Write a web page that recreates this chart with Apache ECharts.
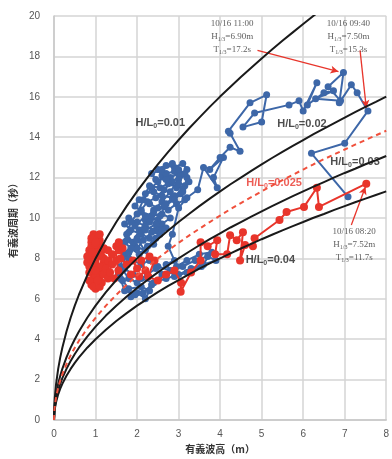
<!DOCTYPE html>
<html>
<head>
<meta charset="utf-8">
<script src="https://cdn.jsdelivr.net/npm/echarts@6/dist/echarts.min.js"></script>
<style>
html,body{margin:0;padding:0;background:#fff;}
#c{width:392px;height:459px;}
</style>
</head>
<body>
<div id="c"></div>
<script>
// ---- data ----
var xTicks = [0,1,2,3,4,5,6,7,8];
var yTicks = [0,2,4,6,8,10,12,14,16,18,20];

// steepness curves H/L0 (H, T)
var curveH = [0,0.01,0.02,0.05,0.1,0.15,0.2,0.3,0.4,0.5,0.6,0.8,1,1.25,1.5,1.75,2,2.25,2.5,2.75,3,3.25,3.5,3.75,4,4.25,4.5,4.75,5,5.25,5.5,5.75,6,6.25,6.5,6.75,7,7.25,7.5,7.75,8];
var curve001 = [0,0.80,1.13,1.79,2.53,3.10,3.58,4.38,5.06,5.66,6.20,7.16,8.00,8.95,9.80,10.59,11.32,12.00,12.65,13.27,13.86,14.43,14.97,15.50,16.01,16.50,16.98,17.44,17.90,18.34,18.77,19.19,19.60,20.01,20.40,20.79,21.17,21.55,21.92,22.28,22.64];
var curve002 = [0,0.57,0.80,1.27,1.79,2.19,2.53,3.10,3.58,4.00,4.38,5.06,5.66,6.33,6.93,7.49,8.00,8.49,8.95,9.38,9.80,10.20,10.59,10.96,11.32,11.67,12.00,12.33,12.65,12.97,13.27,13.57,13.86,14.15,14.43,14.70,14.97,15.24,15.50,15.75,16.01];
var curve0025 = [0,0.51,0.72,1.13,1.60,1.96,2.26,2.77,3.20,3.58,3.92,4.53,5.06,5.66,6.20,6.70,7.16,7.59,8.00,8.39,8.77,9.13,9.47,9.80,10.12,10.44,10.74,11.03,11.32,11.60,11.87,12.14,12.40,12.66,12.91,13.15,13.39,13.63,13.86,14.09,14.32];
var curve003 = [0,0.46,0.65,1.03,1.46,1.79,2.07,2.53,2.92,3.27,3.58,4.13,4.62,5.17,5.66,6.11,6.54,6.93,7.31,7.66,8.00,8.33,8.65,8.95,9.24,9.53,9.80,10.07,10.33,10.59,10.84,11.08,11.32,11.55,11.78,12.01,12.23,12.44,12.66,12.86,13.07];
var curve004 = [0,0.40,0.57,0.89,1.27,1.55,1.79,2.19,2.53,2.83,3.10,3.58,4.00,4.47,4.90,5.29,5.66,6.00,6.33,6.64,6.93,7.21,7.49,7.75,8.00,8.25,8.49,8.72,8.95,9.17,9.39,9.60,9.80,10.01,10.20,10.40,10.59,10.78,10.96,11.14,11.32];

// observed series (H1/3 [m], T1/3 [s])
var blueSeries = [
[1.85,6.1],[2.0,6.3],[2.2,6.0],[2.3,6.4],[2.1,6.6],[1.8,6.5],[1.65,6.9],[1.55,7.2],[1.7,7.5],[1.9,7.2],
[2.1,7.0],[2.4,6.8],[2.7,7.0],[3.0,7.2],[3.3,7.5],[3.6,7.7],[3.9,7.9],[3.7,8.1],[3.4,7.9],[3.1,7.6],
[2.8,7.4],[2.5,7.6],[2.3,7.9],[2.1,7.7],[1.9,7.9],[1.7,8.2],[1.6,8.6],[1.75,8.9],[1.95,8.6],[2.2,8.4],
[2.4,8.7],[2.3,9.0],[2.1,9.2],[1.85,9.4],[1.7,9.7],[1.8,10.0],[2.0,9.8],[2.2,9.6],[2.45,9.4],[2.6,9.7],
[2.8,10.0],[2.6,10.2],[2.35,10.1],[2.1,10.3],[1.95,10.6],[2.05,10.9],[2.3,10.7],[2.5,10.5],[2.75,10.4],[2.95,10.7],
[3.15,10.9],[3.05,11.2],[2.85,11.0],[2.6,11.1],[2.4,11.3],[2.2,11.2],[2.3,11.6],[2.55,11.5],[2.75,11.7],[2.95,11.5],
[3.15,11.6],[3.2,12.0],[3.0,12.2],[2.8,12.0],[2.6,12.1],[2.5,12.4],[2.7,12.6],[2.9,12.5],[3.1,12.7],[3.2,12.4],
[3.05,12.1],[2.85,11.8],[2.65,11.4],[2.45,11.0],[2.25,10.8],[2.1,10.4],[2.25,10.0],[2.5,9.9],[2.7,9.5],[2.55,9.2],
[2.35,9.3],[2.15,8.9],[2.0,8.5],[1.8,8.3],[1.65,8.0],[1.6,7.6],[1.8,7.0],[2.0,6.8],[2.25,7.2],[2.45,7.5],
[2.0,9.0],[2.2,9.9],[2.4,10.4],[2.6,10.8],[2.8,11.3],[3.0,11.9],[2.9,12.3],[2.7,12.2],[2.5,11.8],[2.35,11.5],
[2.15,10.9],[2.0,10.2],[1.85,9.8],[1.75,9.2],[1.9,8.8],[2.05,9.4],[2.3,9.8],[2.55,10.1],[2.7,10.7],[2.9,11.1],
[3.1,11.4],[3.0,11.7],[2.7,11.9],[2.45,11.9],[2.35,12.2],[2.6,12.4],[2.85,12.7],[3.0,12.4],[3.15,12.2],[3.25,11.8],
[3.1,11.3],[2.9,10.9],[2.65,10.6],[2.4,10.3],[2.2,10.1],[1.95,9.6],[1.8,9.3],[1.7,8.8],[1.85,8.5],[2.05,8.2],
[2.25,8.6],[2.45,9.0],[2.6,9.4],[2.45,9.7],[2.2,9.4],[2.0,8.9],[1.8,8.0],[1.7,7.6],[1.6,7.0],[1.7,6.4],
[1.95,6.2],[2.15,6.3],[2.35,6.7],[2.6,7.2],[2.95,7.6],[3.2,7.9],[3.5,8.2],[3.8,8.3],[3.55,7.6],[3.2,7.3],
[2.9,7.1],[2.7,7.7],[2.9,7.9],[2.75,8.6],[2.85,9.2],[3.0,10.5],[3.2,11.0],[3.46,11.4],[3.6,12.5],[3.93,11.5],
[3.84,12.0],[4.08,13.0],[3.75,12.4],[4.0,13.0],[4.24,13.5],[4.48,13.3],[4.24,14.2],[4.2,14.3],[4.72,15.7],[5.12,16.1],
[5.0,14.75],[4.55,14.5],[4.83,15.2],[5.66,15.6],[5.9,15.8],[6.0,15.3],[6.33,16.7],[6.1,15.6],[6.5,16.2],[6.73,16.3],
[6.3,15.9],[6.9,15.8],[6.6,16.5],[6.97,17.2],[6.87,15.7],[7.16,16.6],[7.3,16.2],[7.56,15.3],[7.0,13.7],[6.2,13.2],
[7.08,11.05]
];
var redSeries = [
[0.95,9.2],[1.05,9.0],[0.9,8.8],[1.1,8.6],[0.85,8.4],[1.0,8.2],[1.15,8.4],[0.9,8.0],[0.8,7.8],[1.0,7.6],
[1.2,7.8],[1.1,7.4],[0.85,7.3],[0.95,7.0],[1.1,6.9],[0.9,6.7],[1.0,6.5],[1.15,6.8],[1.05,7.2],[0.85,7.6],
[1.0,7.9],[1.15,8.1],[0.95,8.5],[1.1,8.9],[1.0,9.1],[0.9,8.6],[1.05,8.3],[1.2,8.0],[0.9,9.0],[1.0,8.7],
[0.85,8.2],[0.95,7.8],[1.1,7.6],[0.9,7.4],[1.0,7.1],[0.85,6.9],[0.95,6.6],[1.1,6.6],[1.05,6.9],[1.2,7.2],
[1.0,7.4],[0.8,8.1],[0.92,8.3],[1.1,8.2],[1.2,8.5],[1.0,8.8],[1.1,9.2],[1.25,7.5],[1.3,7.0],[1.3,7.9],
[1.4,7.7],[1.3,8.4],[1.4,8.2],[1.35,7.3],[1.45,7.0],[1.55,7.4],[1.5,7.9],[1.5,8.6],[1.56,8.4],[1.56,8.8],
[1.65,8.5],[1.6,8.0],[1.75,7.7],[1.9,7.9],[2.0,7.5],[1.85,7.2],[2.05,7.1],[2.2,7.4],[2.1,7.9],[2.3,8.1],
[2.42,7.9],[2.27,7.1],[2.5,6.9],[2.7,7.2],[2.9,7.4],[3.06,6.8],[3.05,6.35],[3.3,7.3],[3.53,7.9],[3.53,8.8],
[3.7,8.6],[3.93,8.9],[3.88,8.2],[4.17,8.2],[4.24,9.15],[4.4,8.9],[4.55,9.3],[4.48,7.9],[4.6,8.66],[4.79,8.6],
[4.83,9.0],[5.43,9.9],[5.6,10.3],[6.02,10.55],[6.33,11.5],[6.38,10.55],[7.52,11.7]
];

// text labels for curves: [H, T]
var curveLabels = [
  {pos:[2.56,14.7], text:'0.01', color:'#222'},
  {pos:[5.97,14.65], text:'0.02', color:'#222'},
  {pos:[7.25,12.77], text:'0.03', color:'#222'},
  {pos:[5.30,11.73], text:'0.025', color:'#e8352b'},
  {pos:[5.21,7.92], text:'0.04', color:'#222'}
];
var notes = [
  {pos:[4.29,18.96], time:'10/16 11:00', h:'6.90m', t:'17.2s'},
  {pos:[7.09,18.96], time:'10/16 09:40', h:'7.50m', t:'15.3s'},
  {pos:[7.23,8.66], time:'10/16 08:20', h:'7.52m', t:'11.7s'}
];
var arrows = [
  [[4.9,18.3],[6.85,17.25]],
  [[7.37,18.3],[7.52,15.45]],
  [[7.16,9.65],[7.50,11.55]]
];

// ---- chart ----
function zip(xs, ys){ var o=[]; for(var i=0;i<xs.length;i++){o.push([xs[i],ys[i]]);} return o; }
function curveSeries(vals, color, dashed){
  return {type:'line', data:zip(curveH, vals), smooth:false, showSymbol:false, symbol:'none',
    lineStyle:{color:color, width:2, type: dashed ? [5,4] : 'solid'}, z:5, silent:true, clip:true};
}
var chart = echarts.init(document.getElementById('c'));
var RED = '#e8352b', BLUE = '#3d67a8';
var option = {
  animation:false,
  grid:{left:51, right:3, top:16, bottom:39},
  xAxis:{type:'value', min:0, max:8, interval:1,
    name:'有義波高（m）', nameLocation:'middle', nameGap:22,
    nameTextStyle:{fontSize:10, fontWeight:'bold', color:'#333', fontFamily:'Noto Sans CJK JP'},
    axisLine:{show:true, lineStyle:{color:'#c8c8c8', width:1.5}}, axisTick:{show:false},
    axisLabel:{color:'#555', fontSize:10, margin:9, fontFamily:'Liberation Sans'},
    splitLine:{show:true, lineStyle:{color:'#d4d4d4', width:1.5}}},
  yAxis:{type:'value', min:0, max:20, interval:2,
    name:'有義波周期（秒）', nameLocation:'middle', nameGap:36, nameRotate:90,
    nameTextStyle:{fontSize:10, fontWeight:'bold', color:'#333', fontFamily:'Noto Sans CJK JP'},
    axisLine:{show:true, lineStyle:{color:'#c8c8c8', width:1.5}}, axisTick:{show:false},
    axisLabel:{color:'#555', fontSize:10, margin:14, fontFamily:'Liberation Sans'},
    splitLine:{show:true, lineStyle:{color:'#d4d4d4', width:1.5}}},
  series:[
    {type:'line', name:'blue', data:blueSeries, symbol:'circle', symbolSize:7, showSymbol:true,
      itemStyle:{color:BLUE}, lineStyle:{color:BLUE, width:2}, z:2},
    {type:'line', name:'red', data:redSeries, symbol:'circle', symbolSize:8, showSymbol:true,
      itemStyle:{color:RED}, lineStyle:{color:RED, width:2}, z:3},
    curveSeries(curve001,'#1a1a1a',false),
    curveSeries(curve002,'#1a1a1a',false),
    curveSeries(curve003,'#1a1a1a',false),
    curveSeries(curve004,'#1a1a1a',false),
    curveSeries(curve0025,'#f0503c',true),
    {type:'scatter', symbolSize:0, z:10, silent:true,
      data: curveLabels.map(function(c){
        return {value:c.pos, label:{show:true, position:'inside',
          formatter:'{a|H/L}{s|0}{a|='+c.text+'}',
          rich:{a:{fontSize:11, fontWeight:'bold', color:c.color, fontFamily:'Liberation Sans'},
                s:{fontSize:7, fontWeight:'bold', color:c.color, fontFamily:'Liberation Sans', padding:[6,0,0,0]}}}};
      })},
    {type:'scatter', symbolSize:0, z:10, silent:true,
      data: notes.map(function(n){
        return {value:n.pos, label:{show:true, position:'inside', align:'center', verticalAlign:'middle',
          formatter:'{t|'+n.time+'}\n{t|H}{s|1/3}{t|='+n.h+'}\n{t|T}{s|1/3}{t|='+n.t+'}',
          rich:{t:{fontSize:9, color:'#333', fontFamily:'Liberation Serif', lineHeight:13},
                s:{fontSize:6, color:'#333', fontFamily:'Liberation Serif', lineHeight:13, padding:[5,0,0,0]}}}};
      })},
    {type:'line', data:[], z:9, silent:true,
      markLine:{silent:true, symbol:['none','arrow'], symbolSize:[6,8], animation:false,
        label:{show:false}, lineStyle:{color:RED, width:1.3, type:'solid'},
        data: arrows.map(function(a){ return [{coord:a[0]},{coord:a[1]}]; })}}
  ]
};
chart.setOption(option);
</script>
</body>
</html>
